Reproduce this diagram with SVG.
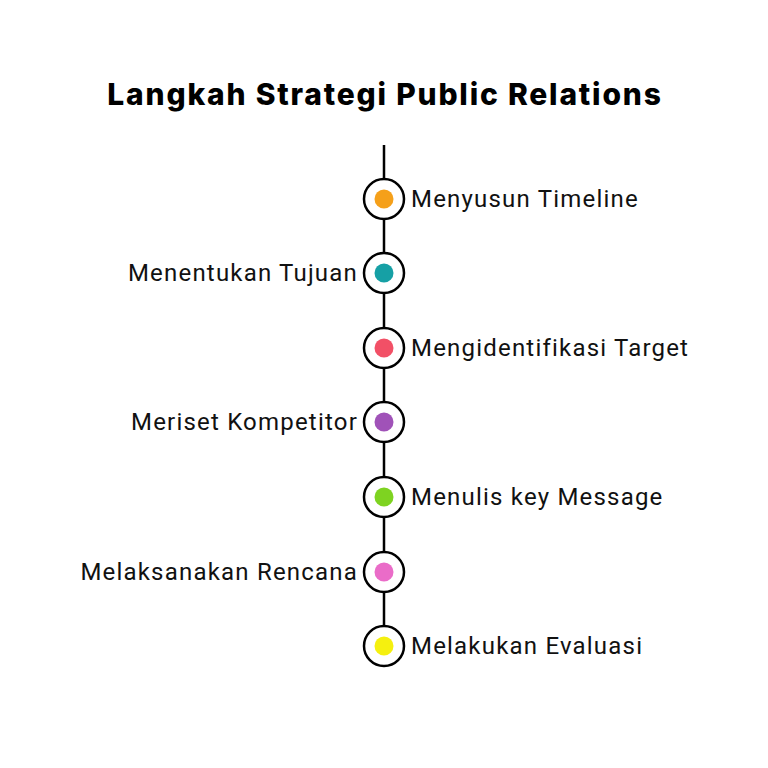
<svg xmlns="http://www.w3.org/2000/svg" width="768" height="768" viewBox="0 0 768 768">
<style>
.t{font-family:Roboto,"Liberation Sans",sans-serif;font-size:24px;letter-spacing:1.2px;fill:#111}
.r{text-anchor:start}
.l{text-anchor:end}
.ring{fill:#fff;stroke:#000;stroke-width:2.5}
.title{font-family:Inter,"Noto Sans",sans-serif;font-weight:800;font-size:30px;letter-spacing:1.8px;fill:#000;text-anchor:middle}
</style>
<rect width="768" height="768" fill="#fff"/>
<text class="title" x="385" y="105">Langkah Strategi Public Relations</text>
<g id="connectors">
<line x1="384" y1="145" x2="384" y2="646" stroke="#000" stroke-width="2.5"/>
</g>
<g id="n1"><circle class="ring" cx="384" cy="199" r="20"/><circle cx="384" cy="199" r="9.5" fill="#F5A01A"/><text class="t r" x="411" y="207">Menyusun Timeline</text></g>
<g id="n2"><circle class="ring" cx="384" cy="273" r="20"/><circle cx="384" cy="273" r="9.5" fill="#16A0A5"/><text class="t l" x="358" y="281">Menentukan Tujuan</text></g>
<g id="n3"><circle class="ring" cx="384" cy="348" r="20"/><circle cx="384" cy="348" r="9.5" fill="#F25066"/><text class="t r" x="411" y="356">Mengidentifikasi Target</text></g>
<g id="n4"><circle class="ring" cx="384" cy="422" r="20"/><circle cx="384" cy="422" r="9.5" fill="#A052B8"/><text class="t l" x="358" y="430">Meriset Kompetitor</text></g>
<g id="n5"><circle class="ring" cx="384" cy="497" r="20"/><circle cx="384" cy="497" r="9.5" fill="#7ED321"/><text class="t r" x="411" y="505">Menulis key Message</text></g>
<g id="n6"><circle class="ring" cx="384" cy="572" r="20"/><circle cx="384" cy="572" r="9.5" fill="#EA6CC8"/><text class="t l" x="358" y="580">Melaksanakan Rencana</text></g>
<g id="n7"><circle class="ring" cx="384" cy="646" r="20"/><circle cx="384" cy="646" r="9.5" fill="#F5F00F"/><text class="t r" x="411" y="654">Melakukan Evaluasi</text></g>
</svg>
